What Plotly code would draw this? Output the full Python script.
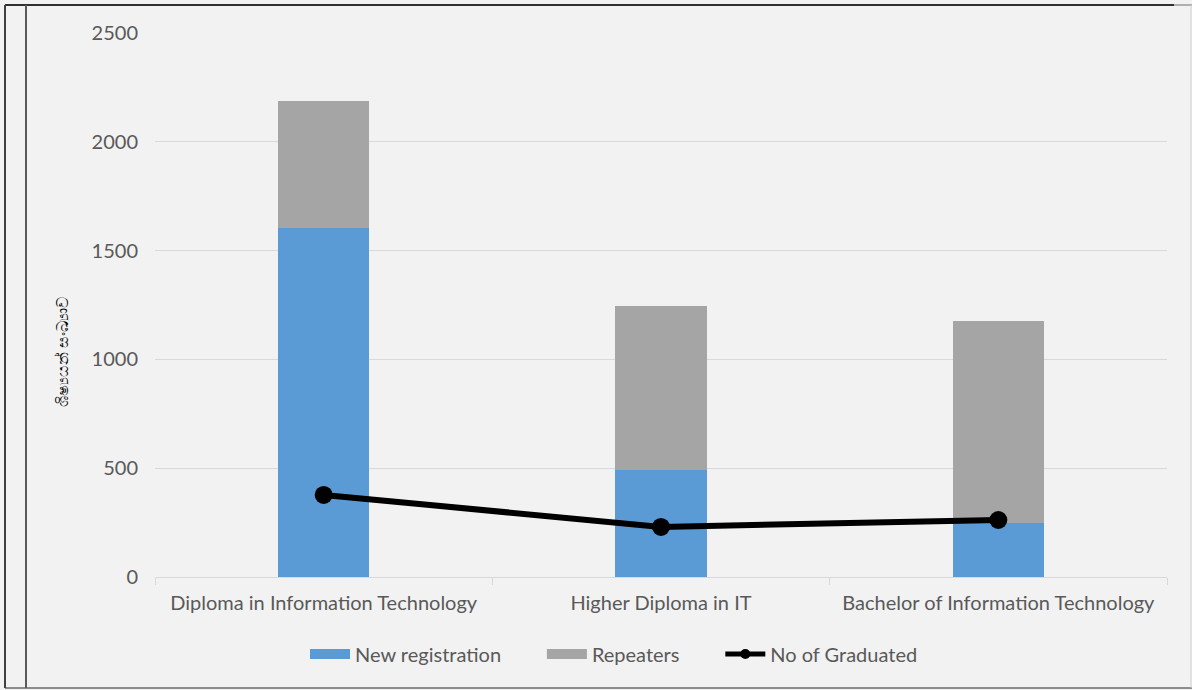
import plotly.graph_objects as go

categories = ["Diploma in Information Technology", "Higher Diploma in IT", "Bachelor of Information Technology"]
new_registration = [1604, 492, 248]
repeaters = [583, 753, 928]
graduated = [377, 230, 262]
y_ticks = [0, 500, 1000, 1500, 2000, 2500]
y_title = "ශිෂ්‍යයන් සංඛ්‍යාව"

W, H = 1192, 690
L, R, T, B = 155, 1167, 33, 577
pw, ph = R - L, B - T

def px(p):
    return (p - L) / pw

def py(q):
    return (B - q) / ph

font = "Lato, 'Open Sans', sans-serif"
blue, grey = "#5B9BD5", "#A5A5A5"
pad = "\u00a0" * 7

fig = go.Figure()
fig.add_trace(go.Bar(x=categories, y=new_registration, name="New registration",
                     marker=dict(color=blue, line=dict(width=0)), showlegend=False))
fig.add_trace(go.Bar(x=categories, y=repeaters, name="Repeaters",
                     marker=dict(color=grey, line=dict(width=0)), showlegend=False))
fig.add_trace(go.Scatter(x=categories, y=graduated, name="No of Graduated",
                         mode="lines+markers",
                         line=dict(color="#000000", width=6),
                         marker=dict(color="#000000", size=18), showlegend=False))
# legend entries
fig.add_trace(go.Scatter(x=[None], y=[None], name="New registration" + pad, mode="lines",
                         line=dict(color=blue, width=14)))
fig.add_trace(go.Scatter(x=[None], y=[None], name="Repeaters" + pad, mode="lines",
                         line=dict(color=grey, width=14)))
fig.add_trace(go.Scatter(x=[None], y=[None], name="No of Graduated", mode="lines+markers",
                         line=dict(color="#000000", width=5),
                         marker=dict(color="#000000", size=10)))

def hline(x0, x1, y, color, w):
    return dict(type="line", xref="paper", yref="paper", x0=px(x0), x1=px(x1), y0=py(y), y1=py(y),
                line=dict(color=color, width=w), layer="above")

def vline(x, y0, y1, color, w):
    return dict(type="line", xref="paper", yref="paper", x0=px(x), x1=px(x), y0=py(y0), y1=py(y1),
                line=dict(color=color, width=w), layer="above")

fig.update_layout(
    width=W, height=H,
    margin=dict(l=L, r=W - R, t=T, b=H - B, autoexpand=False),
    barmode="stack", bargap=0.73,
    paper_bgcolor="#F2F2F2", plot_bgcolor="#F2F2F2",
    font=dict(family=font, size=20, color="#595959"),
    showlegend=True,
    legend=dict(orientation="h", x=px(614), y=py(654), xanchor="center", yanchor="middle",
                font=dict(size=20, color="#595959"), bgcolor="rgba(0,0,0,0)",
                traceorder="normal", itemwidth=40, tracegroupgap=0),
    xaxis=dict(showgrid=False, showline=True, linecolor="#D9D9D9", linewidth=1,
               ticks="outside", tickson="boundaries", ticklen=7, tickcolor="#D9D9D9",
               ticklabelstandoff=8,
               tickfont=dict(size=20, color="#595959"), fixedrange=True),
    yaxis=dict(range=[0, 2500], tickvals=y_ticks, showgrid=True, gridcolor="#D9D9D9",
               gridwidth=1, zeroline=False, showline=False, ticks="",
               ticklabelstandoff=16,
               tickfont=dict(size=20, color="#595959"), fixedrange=True),
    annotations=[
        dict(text=y_title, xref="paper", yref="paper", x=px(61), y=py(352),
             xanchor="center", yanchor="middle", textangle=-90, showarrow=False,
             font=dict(size=16, color="#000000")),
    ],
    shapes=[
        hline(5, 1174, 5, "#303030", 2),
        hline(1174, 1192, 5, "#B0B0B0", 2),
        hline(5, 1192, 688, "#8C8C8C", 2),
        vline(5, 5, 688, "#404040", 2),
        vline(26, 5, 688, "#5A5A5A", 2),
        vline(1191, 5, 688, "#D0D0D0", 1),
    ],
)

fig.write_html("out.html", config={"displayModeBar": False},
               post_script="document.body.style.margin='0';document.body.style.overflow='hidden';")
